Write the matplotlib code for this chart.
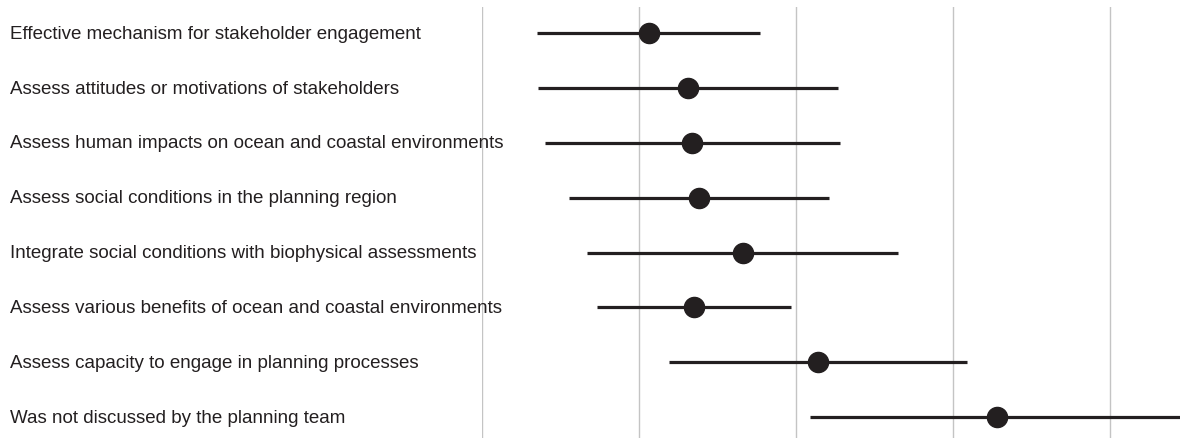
import matplotlib.pyplot as plt

labels = [
    "Effective mechanism for stakeholder engagement",
    "Assess attitudes or motivations of stakeholders",
    "Assess human impacts on ocean and coastal environments",
    "Assess social conditions in the planning region",
    "Integrate social conditions with biophysical assessments",
    "Assess various benefits of ocean and coastal environments",
    "Assess capacity to engage in planning processes",
    "Was not discussed by the planning team",
]
# mean score per item and half-width of its interval
means = [2.06, 2.31, 2.34, 2.38, 2.66, 2.35, 3.14, 4.28]
errors = [0.71, 0.955, 0.94, 0.83, 0.99, 0.62, 0.95, 1.19]
gridlines = [1, 2, 3, 4, 5]

plt.rcParams['font.family'] = ['Liberation Sans', 'DejaVu Sans']

fig = plt.figure(figsize=(11.8, 4.38), dpi=100)
ax = fig.add_axes([482.3 / 1180, 0, 1 - 482.3 / 1180, 431 / 438])
ax.set_xlim(1, 5.448)
ax.set_ylim(len(labels) - 1 + 0.383, -0.48)

for g in gridlines:
    ax.axvline(g, color='#c4c4c4', lw=1.0, zorder=0)

ys = list(range(len(labels)))
ax.errorbar(means, ys, xerr=errors, fmt='o', color='#231f20', ecolor='#231f20',
            elinewidth=2.3, capsize=0, markersize=14.5, zorder=3)

# item labels sit at the left edge of the figure, outside the axes
for y, lab in zip(ys, labels):
    ax.annotate(lab, xy=(10 / 1180, y), xycoords=('figure fraction', 'data'),
                xytext=(0, -1), textcoords='offset pixels',
                va='center', ha='left', fontsize=13.5, color='#231f20',
                annotation_clip=False, zorder=4)

ax.set_xticks([])
ax.set_yticks([])
for s in ax.spines.values():
    s.set_visible(False)

fig.savefig("out.png", dpi=100)
